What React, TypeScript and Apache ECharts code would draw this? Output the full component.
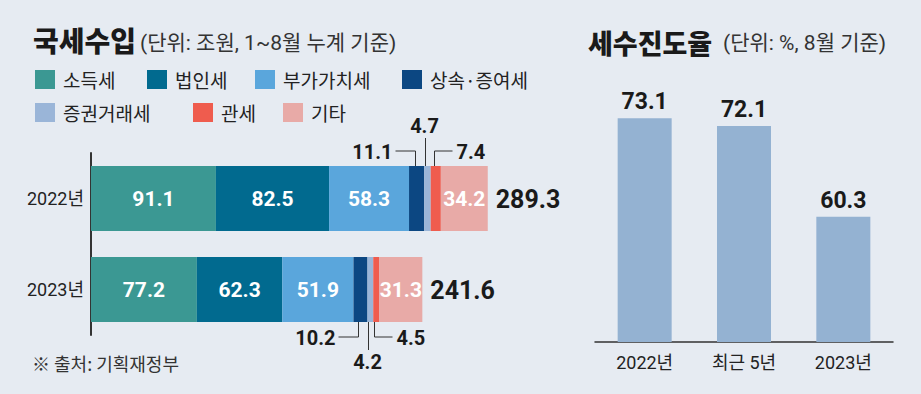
import React, { useEffect, useRef } from "react";
import * as echarts from "echarts";

// ---------- data ----------
const years = ["2022년", "2023년"];
const taxNames = ["소득세", "법인세", "부가가치세", "상속·증여세", "증권거래세", "관세", "기타"];
const incomeTax = [91.1, 77.2];
const corporateTax = [82.5, 62.3];
const vatTax = [58.3, 51.9];
const inheritanceTax = [11.1, 10.2];
const securitiesTax = [4.7, 4.2];
const customsTax = [7.4, 4.5];
const otherTax = [34.2, 31.3];
const totals = [289.3, 241.6];

const progressCats = ["2022년", "최근 5년", "2023년"];
const progressRates = [73.1, 72.1, 60.3];

// ---------- styles / layout ----------
const taxColors = ["#3b9893", "#016a8f", "#5aa6dc", "#0c4782", "#9ab5d8", "#ef5c4e", "#e8aaa7"];
const BG = "#e6ebf2";
const NUM = "Roboto, 'Noto Sans CJK KR', sans-serif";
const KR = "'Noto Sans CJK KR', sans-serif";
const BAR_H = 65;
const legendPos: [number, number][] = [
  [35, 70], [147, 70], [255, 70], [402, 70],
  [35, 103], [193, 103], [283, 103],
];
const outsideSeries = [3, 4, 5]; // segments labelled with leader lines

export default function App() {
  const ref = useRef<HTMLDivElement>(null);

  useEffect(() => {
    if (!ref.current) return;
    const chart = echarts.init(ref.current, undefined, { renderer: "svg" });
    const seriesValues = [incomeTax, corporateTax, vatTax, inheritanceTax, securitiesTax, customsTax, otherTax];

    // callout items: [yearIdx, start, value, kind]
    const callouts: number[][] = [];
    years.forEach((_, yi) => {
      let cum = 0;
      seriesValues.forEach((vals, si) => {
        const k = outsideSeries.indexOf(si);
        if (k >= 0) callouts.push([yi, cum, vals[yi], k]);
        cum += vals[yi];
      });
    });

    const barSeries = seriesValues.map((vals, si) => ({
      name: taxNames[si],
      type: "bar",
      stack: "tax",
      xAxisIndex: 0,
      yAxisIndex: 0,
      barWidth: BAR_H,
      data: vals,
      itemStyle: { color: taxColors[si] },
      label: {
        show: outsideSeries.indexOf(si) < 0,
        position: "inside",
        color: "#ffffff",
        fontFamily: NUM,
        fontWeight: "bold",
        fontSize: 21,
        formatter: (p: any) => Number(p.value).toFixed(1),
      },
      silent: true,
    }));

    const legends = taxNames.map((n, i) => ({
      data: [{ name: n, icon: "rect" }],
      left: legendPos[i][0],
      top: legendPos[i][1],
      itemWidth: 20,
      itemHeight: 19,
      padding: 0,
      selectedMode: false,
      textStyle: { fontFamily: KR, fontSize: 19, color: "#222", padding: [0, 0, 0, 3] },
    }));

    const option: any = {
      animation: false,
      backgroundColor: BG,
      title: [
        { text: "국세수입", left: 33, top: 24, padding: 0, textStyle: { fontFamily: KR, fontSize: 28, fontWeight: 900, color: "#1a1a1a", lineHeight: 32 } },
        { text: "(단위: 조원, 1~8월 누계 기준)", left: 140, top: 31, padding: 0, textStyle: { fontFamily: NUM, fontSize: 21, fontWeight: "normal", color: "#333", lineHeight: 24 } },
        { text: "세수진도율", left: 588, top: 26, padding: 0, textStyle: { fontFamily: KR, fontSize: 27, fontWeight: 900, color: "#1a1a1a", lineHeight: 32 } },
        { text: "(단위: %, 8월 기준)", left: 723, top: 31, padding: 0, textStyle: { fontFamily: NUM, fontSize: 21, fontWeight: "normal", color: "#333", lineHeight: 24 } },
      ],
      legend: legends,
      graphic: [
        { type: "text", left: 32, top: 354, style: { text: "※ 출처: 기획재정부", fontFamily: KR, fontSize: 18, fill: "#333" } },
      ],
      grid: [
        { left: 91, right: 350, top: 153, bottom: 59 },
        { left: 595, right: 28, top: 96, bottom: 52 },
      ],
      xAxis: [
        { type: "value", gridIndex: 0, min: 0, max: 350, show: false },
        {
          type: "category",
          gridIndex: 1,
          data: progressCats,
          axisLine: { show: true, lineStyle: { color: "#333", width: 1.5 } },
          axisTick: { show: false },
          axisLabel: { fontFamily: NUM, fontSize: 18, color: "#222", margin: 11 },
        },
      ],
      yAxis: [
        {
          type: "category",
          gridIndex: 0,
          data: years,
          inverse: true,
          axisLine: { show: true, lineStyle: { color: "#333", width: 2 } },
          axisTick: { show: false },
          axisLabel: { fontFamily: NUM, fontSize: 18, color: "#222", margin: 7 },
        },
        { type: "value", gridIndex: 1, min: 44, max: 76, show: false },
      ],
      series: [
        ...barSeries,
        {
          type: "custom",
          xAxisIndex: 0,
          yAxisIndex: 0,
          silent: true,
          z: 5,
          data: callouts,
          renderItem: (params: any, api: any) => {
            const yi = api.value(0);
            const start = api.value(1);
            const val = api.value(2);
            const kind = api.value(3);
            const c = api.coord([start + val / 2, yi]);
            const dir = yi === 0 ? -1 : 1;
            const edge = c[1] + dir * (BAR_H / 2);
            const cx = Math.round(c[0]) - 1.5;
            let points: number[][];
            let tx: number, ty: number, align: string, vAlign: string;
            if (kind === 0) {
              const y = edge + dir * 15;
              points = [[cx, edge], [cx, y], [cx - 20, y]];
              tx = cx - 23; ty = y + 1; align = "right"; vAlign = "middle";
            } else if (kind === 1) {
              const y = edge + dir * 28;
              points = [[cx, edge], [cx, y]];
              tx = cx - 1; ty = y + dir * 2; align = "center"; vAlign = dir < 0 ? "bottom" : "top";
            } else {
              const y = edge + dir * 15;
              points = [[cx, edge], [cx, y], [cx + 18, y]];
              tx = cx + 22; ty = y + 1; align = "left"; vAlign = "middle";
            }
            return {
              type: "group",
              children: [
                { type: "polyline", shape: { points }, style: { stroke: "#333", lineWidth: 1, fill: "none" } },
                {
                  type: "text",
                  style: {
                    text: Number(val).toFixed(1),
                    x: tx, y: ty, align, verticalAlign: vAlign,
                    fontFamily: NUM, fontWeight: "bold", fontSize: 20, fill: "#1a1a1a",
                  },
                },
              ],
            };
          },
        },
        {
          type: "custom",
          xAxisIndex: 0,
          yAxisIndex: 0,
          silent: true,
          z: 5,
          data: totals.map((t, i) => [t, i]),
          renderItem: (params: any, api: any) => {
            const c = api.coord([api.value(0), api.value(1)]);
            return {
              type: "text",
              style: {
                text: Number(api.value(0)).toFixed(1),
                x: c[0] + 8, y: c[1] + 1, align: "left", verticalAlign: "middle",
                fontFamily: NUM, fontWeight: "bold", fontSize: 25, fill: "#1a1a1a",
              },
            };
          },
        },
        {
          type: "bar",
          xAxisIndex: 1,
          yAxisIndex: 1,
          data: progressRates,
          barWidth: 54,
          itemStyle: { color: "#94b2d2" },
          silent: true,
          label: {
            show: true,
            position: "top",
            distance: 5,
            fontFamily: NUM,
            fontWeight: "bold",
            fontSize: 23,
            color: "#1a1a1a",
            formatter: (p: any) => Number(p.value).toFixed(1),
          },
        },
      ],
    };
    chart.setOption(option);
    return () => chart.dispose();
  }, []);

  return (
    <div style={{ position: "fixed", left: 0, top: 0, width: 921, height: 394, background: BG }}>
      <div ref={ref} style={{ width: 921, height: 394 }} />
    </div>
  );
}
